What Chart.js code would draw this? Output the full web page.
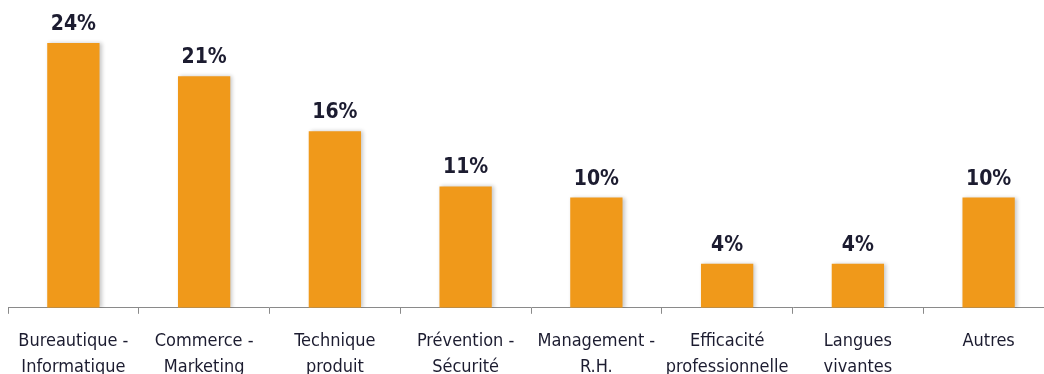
<!DOCTYPE html>
<html>
<head>
<meta charset="utf-8">
<script src="https://cdn.jsdelivr.net/npm/chart.js@4/dist/chart.umd.min.js"></script>
<style>
html,body{margin:0;padding:0;background:#fff;overflow:hidden;}
#wrap{width:1060px;height:394px;}
</style>
</head>
<body>
<div id="wrap"><canvas id="c" width="1060" height="394"></canvas></div>
<script>
const categories = [
  ["Bureautique -", "Informatique"],
  ["Commerce -", "Marketing"],
  ["Technique", "produit"],
  ["Prévention -", "Sécurité"],
  ["Management -", "R.H."],
  ["Efficacité", "professionnelle"],
  ["Langues", "vivantes"],
  ["Autres"]
];
const values = [24, 21, 16, 11, 10, 4, 4, 10];
const valueLabels = ["24%", "21%", "16%", "11%", "10%", "4%", "4%", "10%"];

const barColor = "#F0991A";
const textColor = "#1c1c30";
const fontFamily = "'DejaVu Sans Condensed', 'DejaVu Sans', sans-serif";

const shadowPlugin = {
  id: "barShadow",
  beforeDatasetsDraw(chart) {
    const ctx = chart.ctx;
    ctx.save();
    ctx.shadowColor = "rgba(0,0,0,0.22)";
    ctx.shadowBlur = 4;
    ctx.shadowOffsetX = 2;
    ctx.shadowOffsetY = 0;
  },
  afterDatasetsDraw(chart) {
    chart.ctx.restore();
  }
};

const valueLabelPlugin = {
  id: "valueLabels",
  afterDatasetsDraw(chart) {
    const ctx = chart.ctx;
    const meta = chart.getDatasetMeta(0);
    ctx.save();
    ctx.font = "bold 21px " + fontFamily;
    ctx.fillStyle = textColor;
    ctx.textAlign = "center";
    ctx.textBaseline = "alphabetic";
    meta.data.forEach((el, i) => {
      ctx.fillText(valueLabels[i], el.x, el.y - 13);
    });
    ctx.restore();
  }
};

new Chart(document.getElementById("c"), {
  type: "bar",
  data: {
    labels: categories,
    datasets: [{
      data: values,
      backgroundColor: barColor,
      borderWidth: 0,
      barPercentage: 0.4,
      categoryPercentage: 1.0
    }]
  },
  options: {
    responsive: false,
    animation: false,
    devicePixelRatio: 1,
    layout: { padding: { left: 8, right: 6, top: 10, bottom: 0 } },
    plugins: { legend: { display: false }, tooltip: { enabled: false } },
    scales: {
      x: {
        offset: true,
        grid: {
          display: true,
          offset: true,
          drawOnChartArea: false,
          drawTicks: true,
          tickLength: 6,
          color: "#8a8a8a",
          lineWidth: 1
        },
        border: { display: true, color: "#8a8a8a", width: 1 },
        ticks: {
          color: textColor,
          font: { family: fontFamily, size: 18, lineHeight: 1.45 },
          padding: 14,
          maxRotation: 0,
          autoSkip: false
        }
      },
      y: {
        display: false,
        min: 0,
        max: 27
      }
    }
  },
  plugins: [shadowPlugin, valueLabelPlugin]
});
</script>
</body>
</html>
